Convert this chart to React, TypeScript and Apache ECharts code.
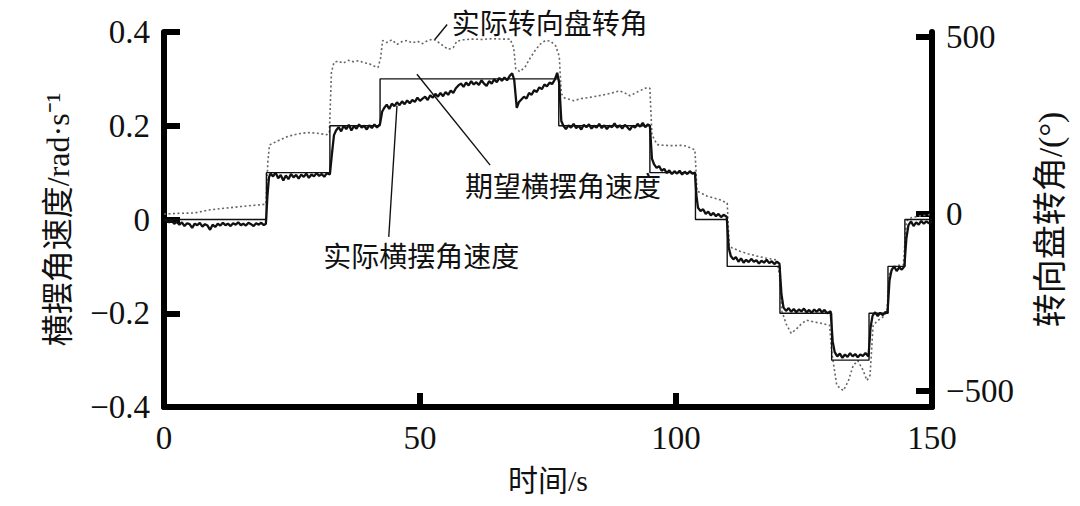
import React, { useEffect, useRef } from "react";
import * as echarts from "echarts";

// ---- axes ----
const xTicks = [0, 50, 100, 150];
const leftTicks = [-0.4, -0.2, 0, 0.2, 0.4];
const rightTicks = [-500, 0, 500];

// ---- desired yaw rate (step: value held from time i to time i+1) ----
const desiredT = [0, 20, 32.4, 42.2, 77.1, 94.9, 103.8, 110, 120.3, 130.4, 137.7, 141.4, 144.7, 150];
const desiredV = [0, 0.1, 0.2, 0.3, 0.2, 0.1, 0, -0.1, -0.2, -0.3, -0.2, -0.1, 0, 0];

// ---- actual yaw rate [time s, rad/s] ----
const yawPoints: number[][] = [
  [0, 0], [0.5, -0.003], [1, -0.006], [1.5, -0.002], [2, -0.009], [2.5, -0.005], [3, -0.011], [3.5, -0.006],
  [4, -0.014], [4.5, -0.008], [5, -0.01], [5.5, -0.018], [6, -0.009], [6.5, -0.012], [7, -0.007], [7.5, -0.015],
  [8, -0.01], [8.5, -0.013], [9, -0.022], [9.5, -0.011], [10, -0.016], [10.5, -0.009], [11, -0.013], [11.5, -0.007],
  [12, -0.012], [12.5, -0.009], [13, -0.014], [13.5, -0.008], [14, -0.011], [14.5, -0.006], [15, -0.012], [15.5, -0.009],
  [16, -0.013], [16.5, -0.007], [17, -0.01], [17.5, -0.014], [18, -0.008], [18.5, -0.011], [19, -0.007], [19.5, -0.012],
  [19.9, -0.009], [20.2, 0.05], [20.5, 0.09],
  [20.8, 0.098], [21.3, 0.092], [21.8, 0.1], [22.3, 0.088], [22.8, 0.095], [23.3, 0.083], [23.8, 0.094], [24.3, 0.086],
  [24.8, 0.097], [25.3, 0.09], [25.8, 0.095], [26.3, 0.087], [26.8, 0.096], [27.3, 0.091], [27.8, 0.098], [28.3, 0.089],
  [28.8, 0.096], [29.3, 0.092], [29.8, 0.099], [30.3, 0.093], [30.8, 0.097], [31.3, 0.091], [31.8, 0.099], [32.4, 0.096],
  [32.8, 0.14], [33.2, 0.18],
  [33.6, 0.19], [34.1, 0.197], [34.6, 0.188], [35.1, 0.2], [35.6, 0.193], [36.1, 0.202], [36.6, 0.19], [37.1, 0.199],
  [37.6, 0.194], [38.1, 0.203], [38.6, 0.196], [39.1, 0.2], [39.6, 0.192], [40.1, 0.201], [40.6, 0.195], [41.1, 0.203],
  [41.6, 0.196], [42.2, 0.204], [42.6, 0.23],
  [43, 0.238], [43.5, 0.245], [44, 0.236], [44.5, 0.247], [45, 0.242], [45.5, 0.25], [46, 0.244], [46.5, 0.252],
  [47, 0.246], [47.5, 0.254], [48, 0.248], [48.5, 0.255], [49, 0.251], [49.5, 0.26], [50, 0.253], [50.5, 0.258],
  [51, 0.262], [51.5, 0.255], [52, 0.265], [52.5, 0.26], [53, 0.268], [53.5, 0.262], [54, 0.27], [54.5, 0.263],
  [55, 0.272], [55.5, 0.266], [56, 0.275], [56.5, 0.27], [57, 0.28], [57.5, 0.286], [58, 0.29], [58.5, 0.283],
  [59, 0.292], [59.5, 0.286], [60, 0.295], [60.5, 0.288], [61, 0.293], [61.5, 0.287], [62, 0.297], [62.5, 0.29],
  [63, 0.285], [63.5, 0.295], [64, 0.29], [64.5, 0.299], [65, 0.293], [65.5, 0.302], [66, 0.296], [66.5, 0.303],
  [67, 0.297], [67.5, 0.306], [68, 0.312], [68.4, 0.298],
  [68.9, 0.238], [69.3, 0.25], [69.8, 0.256], [70.3, 0.262], [70.8, 0.258], [71.3, 0.27], [71.8, 0.266], [72.3, 0.276],
  [72.8, 0.272], [73.3, 0.282], [73.8, 0.278], [74.3, 0.288], [74.8, 0.284], [75.3, 0.292], [75.8, 0.289], [76.3, 0.298],
  [76.8, 0.313], [77.2, 0.29], [77.6, 0.21],
  [78, 0.2], [78.5, 0.193], [79, 0.201], [79.5, 0.196], [80, 0.204], [80.5, 0.195], [81, 0.2], [81.5, 0.192],
  [82, 0.202], [82.5, 0.197], [83, 0.203], [83.5, 0.194], [84, 0.2], [84.5, 0.196], [85, 0.204], [85.5, 0.195],
  [86, 0.201], [86.5, 0.193], [87, 0.2], [87.5, 0.197], [88, 0.205], [88.5, 0.196], [89, 0.201], [89.5, 0.194],
  [90, 0.202], [90.5, 0.197], [91, 0.191], [91.5, 0.2], [92, 0.196], [92.5, 0.204], [93, 0.198], [93.5, 0.206],
  [94, 0.197], [94.5, 0.203], [94.9, 0.2], [95.3, 0.13],
  [95.7, 0.118], [96.2, 0.11], [96.7, 0.114], [97.2, 0.104], [97.7, 0.108], [98.2, 0.099], [98.7, 0.105], [99.2, 0.097],
  [99.7, 0.103], [100.2, 0.098], [100.7, 0.104], [101.2, 0.096], [101.7, 0.102], [102.2, 0.097], [102.7, 0.103], [103.2, 0.098],
  [103.7, 0.1], [104, 0.05],
  [104.3, 0.025], [104.8, 0.018], [105.3, 0.022], [105.8, 0.012], [106.3, 0.017], [106.8, 0.009], [107.3, 0.014], [107.8, 0.007],
  [108.3, 0.012], [108.8, 0.005], [109.3, 0.01], [109.9, 0.006], [110.3, -0.06],
  [110.7, -0.078], [111.2, -0.085], [111.7, -0.08], [112.2, -0.09], [112.7, -0.083], [113.2, -0.092], [113.7, -0.086], [114.2, -0.091],
  [114.7, -0.084], [115.2, -0.09], [115.7, -0.087], [116.2, -0.094], [116.7, -0.088], [117.2, -0.092], [117.7, -0.086], [118.2, -0.093],
  [118.7, -0.089], [119.2, -0.095], [119.7, -0.09], [120.2, -0.094], [120.6, -0.16],
  [121, -0.188], [121.5, -0.195], [122, -0.189], [122.5, -0.197], [123, -0.191], [123.5, -0.198], [124, -0.192], [124.5, -0.196],
  [125, -0.19], [125.5, -0.198], [126, -0.193], [126.5, -0.199], [127, -0.192], [127.5, -0.197], [128, -0.191], [128.5, -0.198],
  [129, -0.193], [129.5, -0.2], [130.2, -0.196], [130.6, -0.26],
  [131, -0.283], [131.5, -0.292], [132, -0.286], [132.5, -0.295], [133, -0.288], [133.5, -0.293], [134, -0.285], [134.5, -0.292],
  [135, -0.287], [135.5, -0.294], [136, -0.288], [136.5, -0.291], [137, -0.285], [137.6, -0.292], [138, -0.23],
  [138.4, -0.205], [138.9, -0.198], [139.4, -0.206], [139.9, -0.199], [140.4, -0.204], [140.9, -0.197], [141.3, -0.2], [141.7, -0.13],
  [142.1, -0.108], [142.6, -0.1], [143.1, -0.11], [143.6, -0.102], [144.1, -0.107], [144.6, -0.1], [145, -0.04],
  [145.4, -0.012], [145.9, -0.004], [146.4, -0.014], [146.9, -0.006], [147.4, -0.011], [147.9, -0.003], [148.4, -0.009], [148.9, -0.004],
  [149.4, -0.008], [150, -0.005],
];

// ---- actual steering wheel angle [time s, deg] (right axis) ----
const steerPoints: number[][] = [
  [0, 0], [3, 2], [6, 3], [7, 6], [9, 12], [11, 15], [13, 18], [15, 21], [17, 24], [19, 26], [19.9, 28],
  [20.3, 150], [20.6, 195], [22, 205], [24, 218], [26, 226], [28, 230], [30, 228], [31.8, 224], [32.3, 230],
  [32.7, 400], [33.2, 428], [34, 432], [35, 426], [36, 434], [37, 430], [38, 433], [39, 427], [40, 425], [41, 418], [41.8, 414], [42.3, 440],
  [42.7, 490], [43.5, 484], [44.5, 492], [45.5, 479], [46.5, 487], [47.5, 490], [48.5, 483], [49.5, 488], [50.5, 481], [51.5, 490],
  [52.6, 494], [53.5, 486], [54.5, 475], [55.5, 465], [56.5, 470], [57.2, 488], [58.5, 492], [60, 494], [62, 493], [64, 495],
  [66, 494], [67.6, 494],
  [68.3, 470], [68.7, 410], [69.5, 402], [70.5, 415], [71.5, 440], [72.5, 462], [73.5, 480], [74.5, 490], [75.5, 488], [76.5, 475], [77.2, 445],
  [77.6, 340], [78.2, 328], [80, 320], [81.5, 326], [83, 329], [84.5, 333], [86, 337], [87.5, 342], [89, 348], [90, 342], [91, 334],
  [92.5, 345], [94.3, 357], [94.9, 355],
  [95.3, 224], [96.3, 196], [97.5, 194], [99.4, 193], [101, 194], [102, 192], [103.7, 181],
  [104.1, 65], [106, 51], [108.6, 40], [110, 31],
  [110.4, -90], [111, -96], [112.5, -105], [114, -112], [115.8, -119], [117.5, -124], [119.7, -130],
  [120.3, -180], [120.7, -275], [121.5, -310], [122.5, -337], [123.5, -325], [124.5, -310], [125.5, -300], [127, -305], [128.5, -309], [130, -314],
  [130.4, -388], [131.4, -484], [132.7, -499], [133.7, -470], [134.6, -428], [135.5, -414], [136.5, -440], [137.3, -470], [137.9, -456],
  [138.5, -314], [139.5, -300], [140.5, -290], [141.2, -275],
  [141.7, -170], [142.5, -150], [143.5, -145], [144.4, -144],
  [145, -20], [146, -10], [147.5, -6], [149, -3], [150, 0],
];

// ---- annotations (left-axis data coordinates) ----
const annoTexts = ["实际转向盘转角", "期望横摆角速度", "实际横摆角速度"];
const annoTextAt = [[56.2, 0.415], [58.8, 0.069], [31.1, -0.082]];
const annoLineFrom = [[52.9, 0.384], [49.4, 0.31], [45.5, 0.243]];
const annoLineTo = [[55.3, 0.416], [63.7, 0.116], [43.9, -0.037]];

const SERIF = "'Liberation Serif', 'Times New Roman', 'Noto Sans CJK SC', serif";
const fmtNum = (v: number) => (v === 0 ? "0" : String(Math.round(v * 10) / 10).replace("-", "\u2212"));

export default function App() {
  const ref = useRef<HTMLDivElement>(null);
  useEffect(() => {
    if (!ref.current) return;
    const chart = echarts.init(ref.current, null, { renderer: "svg" });
    const axisLine = { show: true, onZero: false, lineStyle: { color: "#000", width: 6 } };
    const option: any = {
      animation: false,
      backgroundColor: "#fff",
      grid: { left: 164, right: 148, top: 32, bottom: 99, containLabel: false },
      xAxis: {
        type: "value",
        min: 0,
        max: 150,
        interval: 50,
        axisLine,
        axisTick: { show: true, inside: true, length: 14, lineStyle: { color: "#000", width: 6 }, customValues: xTicks },
        axisLabel: { margin: 14, fontSize: 33, color: "#111", fontFamily: SERIF, customValues: xTicks, formatter: fmtNum },
        splitLine: { show: false },
        name: "时间/s",
        nameLocation: "middle",
        nameGap: 58,
        nameTextStyle: { fontSize: 30, color: "#111", fontFamily: SERIF },
      },
      yAxis: [
        {
          type: "value",
          min: -0.4,
          max: 0.4,
          interval: 0.2,
          position: "left",
          axisLine,
          axisTick: { show: true, inside: true, length: 16, lineStyle: { color: "#000", width: 6 }, customValues: leftTicks },
          axisLabel: { margin: 14, fontSize: 33, color: "#111", fontFamily: SERIF, customValues: leftTicks, formatter: fmtNum },
          splitLine: { show: false },
          name: "横摆角速度/rad·s⁻¹",
          nameLocation: "middle",
          nameRotate: 90,
          nameGap: 90,
          nameTextStyle: { fontSize: 32, color: "#111", fontFamily: SERIF },
        },
        {
          type: "value",
          min: -545,
          max: 514,
          position: "right",
          axisLine,
          axisTick: { show: true, inside: true, length: 16, lineStyle: { color: "#000", width: 6 }, customValues: rightTicks },
          axisLabel: { margin: 14, fontSize: 33, color: "#111", fontFamily: SERIF, customValues: rightTicks, formatter: fmtNum },
          splitLine: { show: false },
          name: "转向盘转角/(°)",
          nameLocation: "middle",
          nameRotate: 90,
          nameGap: 101,
          nameTextStyle: { fontSize: 34, color: "#111", fontFamily: SERIF },
        },
      ],
      series: [
        {
          type: "line",
          yAxisIndex: 1,
          data: steerPoints,
          showSymbol: false,
          lineStyle: { color: "#666", width: 1.6, type: [2, 2.5] },
          z: 1,
        },
        {
          type: "line",
          yAxisIndex: 0,
          data: yawPoints,
          showSymbol: false,
          lineStyle: { color: "#111", width: 2.3 },
          z: 2,
        },
        {
          type: "line",
          yAxisIndex: 0,
          step: "end",
          data: desiredT.map((t, i) => [t, desiredV[i]]),
          showSymbol: false,
          lineStyle: { color: "#111", width: 1.4 },
          z: 3,
        },
      ],
    };
    chart.setOption(option);
    const toPx = (p: number[]) => chart.convertToPixel({ xAxisIndex: 0, yAxisIndex: 0 }, p) as number[];
    const graphic: any[] = [];
    annoTexts.forEach((txt, i) => {
      const a = toPx(annoLineFrom[i]);
      const b = toPx(annoLineTo[i]);
      const c = toPx(annoTextAt[i]);
      graphic.push({
        type: "line",
        shape: { x1: a[0], y1: a[1], x2: b[0], y2: b[1] },
        style: { stroke: "#111", lineWidth: 1.4 },
        z: 10,
      });
      graphic.push({
        type: "text",
        x: c[0],
        y: c[1],
        style: { text: txt, fontSize: 28, fill: "#111", fontFamily: SERIF, textAlign: "left", textVerticalAlign: "middle" },
        z: 10,
      });
    });
    chart.setOption({ graphic });
    return () => chart.dispose();
  }, []);
  return <div ref={ref} style={{ position: "fixed", left: 0, top: 0, width: 1080, height: 506, background: "#fff" }} />;
}
